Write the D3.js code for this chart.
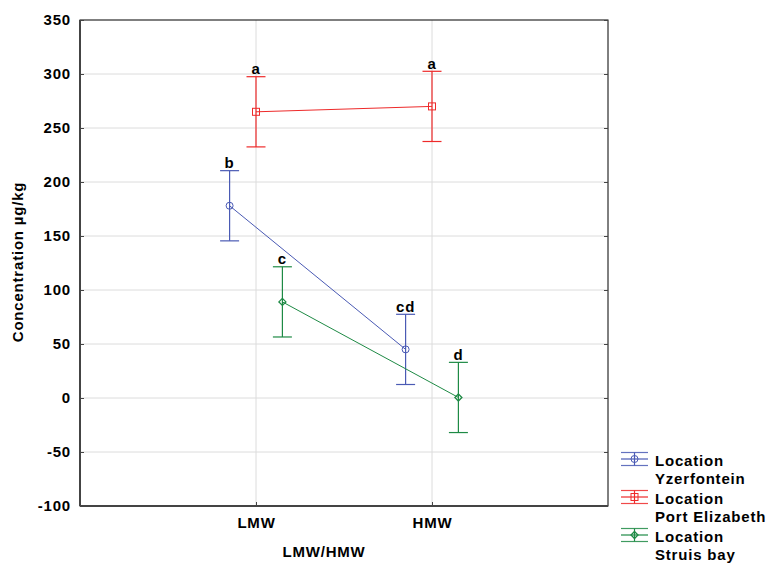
<!DOCTYPE html>
<html><head><meta charset="utf-8">
<script src="https://cdn.jsdelivr.net/npm/d3@7"></script>
<style>body{margin:0;background:#fff}svg{display:block}text{font-family:"Liberation Sans",Arial,sans-serif;font-weight:bold;letter-spacing:0.8px}</style>
</head><body><svg id="c" width="766" height="563"></svg>
<script>
const categories = ["LMW", "HMW"];
const seriesNames = ["Yzerfontein", "Port Elizabeth", "Struis bay"];
const seriesColors = ["#4a5ab4", "#ee2a2a", "#1e8a45"];
const yzMeans = [178, 45];
const peMeans = [265, 270];
const sbMeans = [89, 0.5];
const yzErr = [32.5, 32.5];
const peErr = [32.5, 32.5];
const sbErr = [32.5, 32.5];
const yzLetters = ["b", "cd"];
const peLetters = ["a", "a"];
const sbLetters = ["c", "d"];
const yTicks = [-100, -50, 0, 50, 100, 150, 200, 250, 300, 350];

const series = [
  {name: seriesNames[0], color: seriesColors[0], means: yzMeans, err: yzErr, letters: yzLetters, off: -0.15, marker: "circle"},
  {name: seriesNames[1], color: seriesColors[1], means: peMeans, err: peErr, letters: peLetters, off: 0, marker: "square"},
  {name: seriesNames[2], color: seriesColors[2], means: sbMeans, err: sbErr, letters: sbLetters, off: 0.15, marker: "diamond"}
];

const svg = d3.select("#c");
const L = 80, R = 608, T = 20, B = 506;
const FS = 15;
const x = d3.scaleLinear().domain([0, 3]).range([L, R]);
const y = d3.scaleLinear().domain([-100, 350]).range([B, T]);

// grid
svg.append("g").selectAll("line").data(yTicks.slice(1, -1)).join("line")
  .attr("x1", L).attr("x2", R).attr("y1", d => y(d)).attr("y2", d => y(d))
  .attr("stroke", "#dcdcdc").attr("stroke-width", 1);
svg.append("g").selectAll("line").data(categories).join("line")
  .attr("x1", (d, i) => x(i + 1)).attr("x2", (d, i) => x(i + 1)).attr("y1", T).attr("y2", B)
  .attr("stroke", "#dcdcdc").attr("stroke-width", 1);

// frame
svg.append("rect").attr("x", L).attr("y", T).attr("width", R - L).attr("height", B - T)
  .attr("fill", "none").attr("stroke", "#000").attr("stroke-width", 1);
svg.append("line").attr("x1", L).attr("x2", L).attr("y1", T).attr("y2", B).attr("stroke", "#444").attr("stroke-width", 2);
svg.append("line").attr("x1", L).attr("x2", R).attr("y1", B).attr("y2", B).attr("stroke", "#444").attr("stroke-width", 2);

// y axis
const yAxis = d3.axisLeft(y).tickValues(yTicks).tickFormat(d => String(d)).tickSizeInner(-4).tickSizeOuter(0).tickPadding(9);
const yg = svg.append("g").attr("transform", `translate(${L},0)`).call(yAxis);
yg.select(".domain").remove();
yg.selectAll("line").attr("stroke", "#444");
yg.selectAll("text").attr("font-size", FS).attr("fill", "#000").attr("font-family", null);
// right ticks
const yr = svg.append("g").attr("transform", `translate(${R},0)`).call(d3.axisRight(y).tickValues(yTicks).tickSizeInner(-4).tickSizeOuter(0).tickFormat(""));
yr.select(".domain").remove(); yr.selectAll("line").attr("stroke", "#444");

// x axis
const xAxis = d3.axisBottom(x).tickValues([1, 2]).tickFormat(d => categories[d - 1]).tickSizeInner(-4).tickSizeOuter(0).tickPadding(11);
const xg = svg.append("g").attr("transform", `translate(0,${B})`).call(xAxis);
xg.select(".domain").remove();
xg.selectAll("line").attr("stroke", "#444");
xg.selectAll("text").attr("font-size", FS).attr("fill", "#000").attr("font-family", null);

// axis titles
svg.append("text").attr("x", 324).attr("y", 557).attr("text-anchor", "middle").attr("font-size", FS).text("LMW/HMW");
svg.append("text").attr("transform", `translate(23,262) rotate(-90)`).attr("text-anchor", "middle").attr("font-size", FS).text("Concentration µg/kg");

function drawMarker(g, type, cx, cy, color) {
  if (type === "circle") g.append("circle").attr("cx", cx).attr("cy", cy).attr("r", 3.5).attr("fill", "none").attr("stroke", color);
  else if (type === "square") g.append("rect").attr("x", cx - 3.5).attr("y", cy - 3.5).attr("width", 7).attr("height", 7).attr("fill", "none").attr("stroke", color);
  else g.append("path").attr("d", `M${cx},${cy - 3.5}L${cx + 3.5},${cy}L${cx},${cy + 3.5}L${cx - 3.5},${cy}Z`).attr("fill", "none").attr("stroke", color).attr("stroke-width", 1.3);
}

const line = d3.line().x(d => x(d.xi)).y(d => y(d.v));
series.forEach(s => {
  const g = svg.append("g");
  const pts = s.means.map((v, i) => ({xi: i + 1 + s.off, v}));
  g.append("path").attr("d", line(pts)).attr("fill", "none").attr("stroke", s.color).attr("stroke-width", 1);
  pts.forEach((p, i) => {
    const cx = x(p.xi), hi = y(p.v + s.err[i]), lo = y(p.v - s.err[i]);
    g.append("line").attr("x1", cx).attr("x2", cx).attr("y1", hi).attr("y2", lo).attr("stroke", s.color).attr("stroke-width", 1.2);
    [hi, lo].forEach(yy => g.append("line").attr("x1", cx - 9.5).attr("x2", cx + 9.5).attr("y1", yy).attr("y2", yy).attr("stroke", s.color).attr("stroke-width", 1.2));
    drawMarker(g, s.marker, cx, y(p.v), s.color);
    svg.append("text").attr("x", cx).attr("y", hi - 2.5).attr("text-anchor", "middle").attr("font-size", FS).attr("fill", "#000").text(s.letters[i]);
  });
});

// legend
series.forEach((s, i) => {
  const ly = 460 + i * 38;
  const my = ly - 1;
  const g = svg.append("g");
  [-6.5, 0, 6.5].forEach(dy => g.append("line").attr("x1", 621).attr("x2", 648).attr("y1", my + dy).attr("y2", my + dy)
    .attr("stroke", s.color).attr("stroke-width", 1.2).attr("opacity", dy === 0 ? 1 : 0.85));
  g.append("line").attr("x1", 634.5).attr("x2", 634.5).attr("y1", my - 6.5).attr("y2", my + 6.5).attr("stroke", s.color).attr("stroke-width", 1.2);
  drawMarker(g, s.marker, 634.5, my, s.color);
  g.append("text").attr("x", 655).attr("y", ly + 6).attr("font-size", FS).text("Location");
  g.append("text").attr("x", 655).attr("y", ly + 23.5).attr("font-size", FS).text(s.name);
});
</script></body></html>
